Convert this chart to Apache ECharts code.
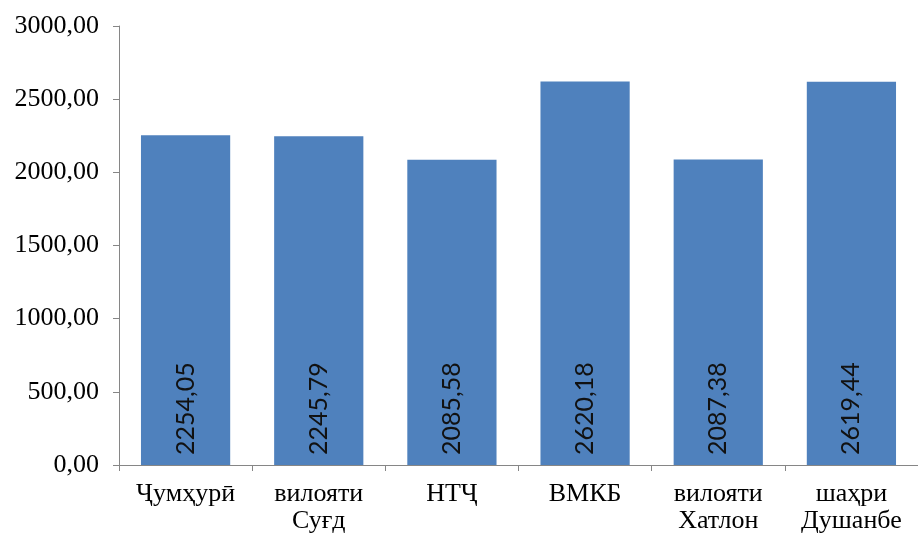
<!DOCTYPE html>
<html>
<head>
<meta charset="utf-8">
<script src="https://cdn.jsdelivr.net/npm/echarts@6/dist/echarts.min.js"></script>
<style>html,body{margin:0;padding:0;background:#fff}#c{width:918px;height:535px}</style>
</head>
<body>
<div id="c"></div>
<script>
var categories = ['Ҷумҳурӣ', 'вилояти\nСуғд', 'НТҶ', 'ВМКБ', 'вилояти\nХатлон', 'шаҳри\nДушанбе'];
var values = [2254.05, 2245.79, 2085.58, 2620.18, 2087.38, 2619.44];
var yMin = 0, yMax = 3000, yStep = 500;

function fmt(v) { return Number(v).toFixed(2).replace('.', ','); }

var chart = echarts.init(document.getElementById('c'));
chart.setOption({
  animation: false,
  backgroundColor: '#ffffff',
  grid: { left: 119, right: 0, top: 26, bottom: 70 },
  xAxis: {
    type: 'category',
    data: categories,
    axisLine: { lineStyle: { color: '#868686', width: 1 } },
    axisTick: { show: true, length: 6, lineStyle: { color: '#868686' } },
    axisLabel: {
      fontFamily: 'Liberation Serif', fontSize: 26, color: '#000', margin: 16, lineHeight: 27, interval: 0
    }
  },
  yAxis: {
    type: 'value',
    min: yMin, max: yMax, interval: yStep,
    axisLine: { show: true, lineStyle: { color: '#868686', width: 1 } },
    axisTick: { show: true, length: 6, lineStyle: { color: '#868686' } },
    splitLine: { show: false },
    axisLabel: {
      formatter: fmt, fontFamily: 'Liberation Serif', fontSize: 26, color: '#000', margin: 20
    }
  },
  series: [{
    type: 'bar',
    data: values,
    barWidth: '67%',
    itemStyle: { color: '#4F81BD' },
    label: {
      show: true,
      position: 'insideBottom',
      rotate: 90,
      align: 'left',
      verticalAlign: 'middle',
      distance: 10,
      formatter: function (p) { return fmt(p.value); },
      fontFamily: 'Lato', fontSize: 25, color: '#111'
    }
  }]
});
</script>
</body>
</html>
